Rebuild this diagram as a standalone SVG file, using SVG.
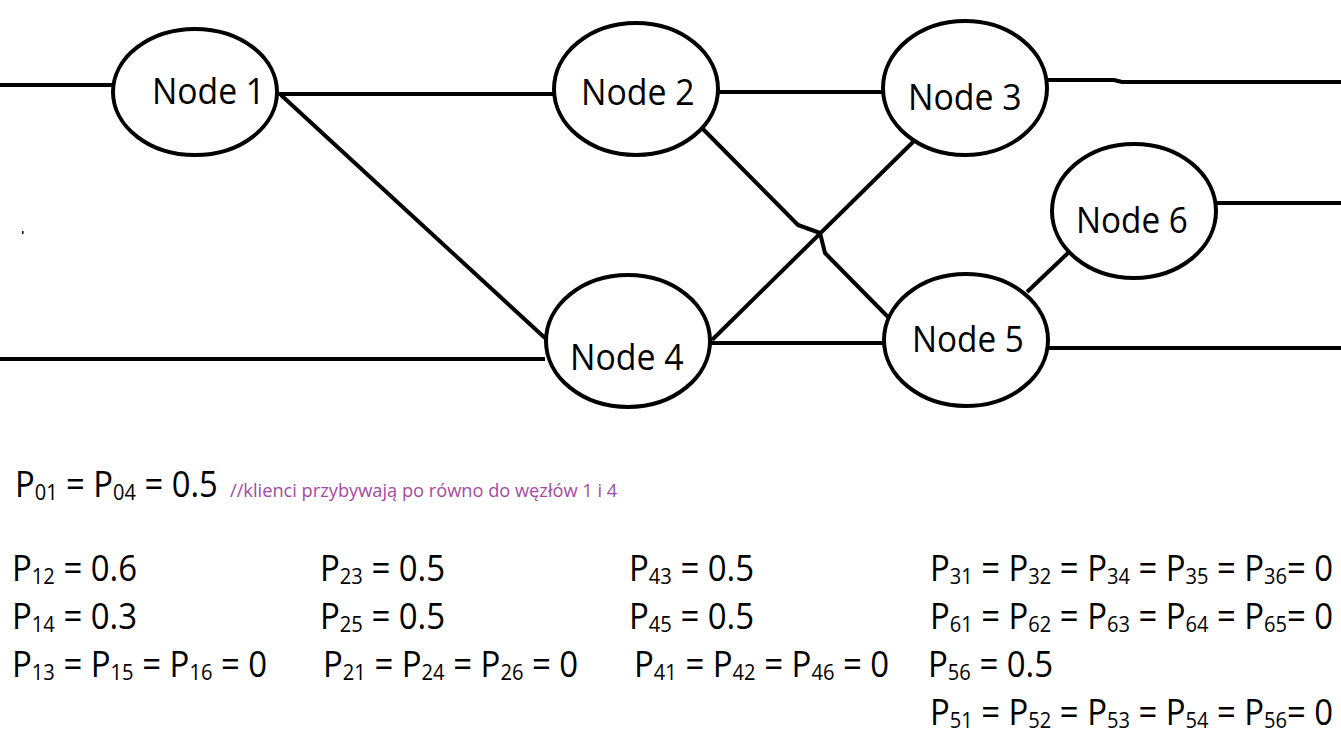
<svg xmlns="http://www.w3.org/2000/svg" width="1341" height="737" viewBox="0 0 1341 737">
<style>
.e{fill:#fff;stroke:#000;stroke-width:4}
.c{fill:none;stroke:#000;stroke-width:4;stroke-linejoin:round}
.n{font-family:"Open Sans","Noto Sans","DejaVu Sans",sans-serif;font-size:36px;fill:#000}
.t{font-family:"Open Sans","Noto Sans","DejaVu Sans",sans-serif;font-size:36px;fill:#000}
.s{font-size:22px}
.k{font-family:"Open Sans","Noto Sans","DejaVu Sans",sans-serif;font-size:19px;fill:#A349A4}
</style>
<rect width="1341" height="737" fill="#fff"/>
<g id="connectors">
<path class="c" d="M0,85 H113"/>
<path class="c" d="M277,94 H553"/>
<path class="c" d="M281,95 L545,338"/>
<path class="c" d="M718,92 H884"/>
<path class="c" d="M700,126 L798,225 L820,233 L825,253 L888,317"/>
<path class="c" d="M712,340 L914,141"/>
<path class="c" d="M0,359 H545"/>
<path class="c" d="M710,343 H885"/>
<path class="c" d="M1047,80 H1114 L1122,82 H1341"/>
<path class="c" d="M1217,203 H1341"/>
<path class="c" d="M1068,253 L1027,292"/>
<path class="c" d="M1049,348 H1341"/>
</g>
<rect x="22" y="231" width="1.5" height="3" fill="#000"/>
<g id="node1"><ellipse class="e" cx="195" cy="92" rx="82" ry="63"/><text class="n" transform="translate(152 104) scale(0.935 1)">Node 1</text></g>
<g id="node2"><ellipse class="e" cx="636" cy="89" rx="82" ry="66"/><text class="n" transform="translate(581 105) scale(0.94 1)">Node 2</text></g>
<g id="node3"><ellipse class="e" cx="965" cy="88" rx="82" ry="67"/><text class="n" transform="translate(908 110) scale(0.94 1)">Node 3</text></g>
<g id="node6"><ellipse class="e" cx="1134" cy="211" rx="82" ry="67"/><text class="n" transform="translate(1076 233) scale(0.925 1)">Node 6</text></g>
<g id="node4"><ellipse class="e" cx="628" cy="341" rx="82" ry="66"/><text class="n" transform="translate(570 370) scale(0.94 1)">Node 4</text></g>
<g id="node5"><ellipse class="e" cx="966" cy="340" rx="82" ry="66"/><text class="n" transform="translate(912 352) scale(0.925 1)">Node 5</text></g>
<g id="equations">
<text class="t" transform="translate(15 497) scale(0.91 1)">P<tspan class="s" dy="3">01</tspan><tspan dy="-3"> = P</tspan><tspan class="s" dy="3">04</tspan><tspan dy="-3"> = 0.5</tspan></text>
<text class="k" transform="translate(230 497) scale(0.96 1)">//klienci przybywają po równo do węzłów 1 i 4</text>

<text class="t" transform="translate(12 581) scale(0.915 1)">P<tspan class="s" dy="3">12</tspan><tspan dy="-3"> = 0.6</tspan></text>
<text class="t" transform="translate(12 629) scale(0.915 1)">P<tspan class="s" dy="3">14</tspan><tspan dy="-3"> = 0.3</tspan></text>
<text class="t" transform="translate(12 677) scale(0.915 1)">P<tspan class="s" dy="3">13</tspan><tspan dy="-3"> = P</tspan><tspan class="s" dy="3">15</tspan><tspan dy="-3"> = P</tspan><tspan class="s" dy="3">16</tspan><tspan dy="-3"> = 0</tspan></text>

<text class="t" transform="translate(320 581) scale(0.915 1)">P<tspan class="s" dy="3">23</tspan><tspan dy="-3"> = 0.5</tspan></text>
<text class="t" transform="translate(320 629) scale(0.915 1)">P<tspan class="s" dy="3">25</tspan><tspan dy="-3"> = 0.5</tspan></text>
<text class="t" transform="translate(323 677) scale(0.915 1)">P<tspan class="s" dy="3">21</tspan><tspan dy="-3"> = P</tspan><tspan class="s" dy="3">24</tspan><tspan dy="-3"> = P</tspan><tspan class="s" dy="3">26</tspan><tspan dy="-3"> = 0</tspan></text>

<text class="t" transform="translate(629 581) scale(0.915 1)">P<tspan class="s" dy="3">43</tspan><tspan dy="-3"> = 0.5</tspan></text>
<text class="t" transform="translate(629 629) scale(0.915 1)">P<tspan class="s" dy="3">45</tspan><tspan dy="-3"> = 0.5</tspan></text>
<text class="t" transform="translate(634 677) scale(0.915 1)">P<tspan class="s" dy="3">41</tspan><tspan dy="-3"> = P</tspan><tspan class="s" dy="3">42</tspan><tspan dy="-3"> = P</tspan><tspan class="s" dy="3">46</tspan><tspan dy="-3"> = 0</tspan></text>

<text class="t" transform="translate(930 581) scale(0.913 1)">P<tspan class="s" dy="3">31</tspan><tspan dy="-3"> = P</tspan><tspan class="s" dy="3">32</tspan><tspan dy="-3"> = P</tspan><tspan class="s" dy="3">34</tspan><tspan dy="-3"> = P</tspan><tspan class="s" dy="3">35</tspan><tspan dy="-3"> = P</tspan><tspan class="s" dy="3">36</tspan><tspan dy="-3">= 0</tspan></text>
<text class="t" transform="translate(930 629) scale(0.913 1)">P<tspan class="s" dy="3">61</tspan><tspan dy="-3"> = P</tspan><tspan class="s" dy="3">62</tspan><tspan dy="-3"> = P</tspan><tspan class="s" dy="3">63</tspan><tspan dy="-3"> = P</tspan><tspan class="s" dy="3">64</tspan><tspan dy="-3"> = P</tspan><tspan class="s" dy="3">65</tspan><tspan dy="-3">= 0</tspan></text>
<text class="t" transform="translate(928 677) scale(0.915 1)">P<tspan class="s" dy="3">56</tspan><tspan dy="-3"> = 0.5</tspan></text>
<text class="t" transform="translate(930 725) scale(0.913 1)">P<tspan class="s" dy="3">51</tspan><tspan dy="-3"> = P</tspan><tspan class="s" dy="3">52</tspan><tspan dy="-3"> = P</tspan><tspan class="s" dy="3">53</tspan><tspan dy="-3"> = P</tspan><tspan class="s" dy="3">54</tspan><tspan dy="-3"> = P</tspan><tspan class="s" dy="3">56</tspan><tspan dy="-3">= 0</tspan></text>
</g>
</svg>
